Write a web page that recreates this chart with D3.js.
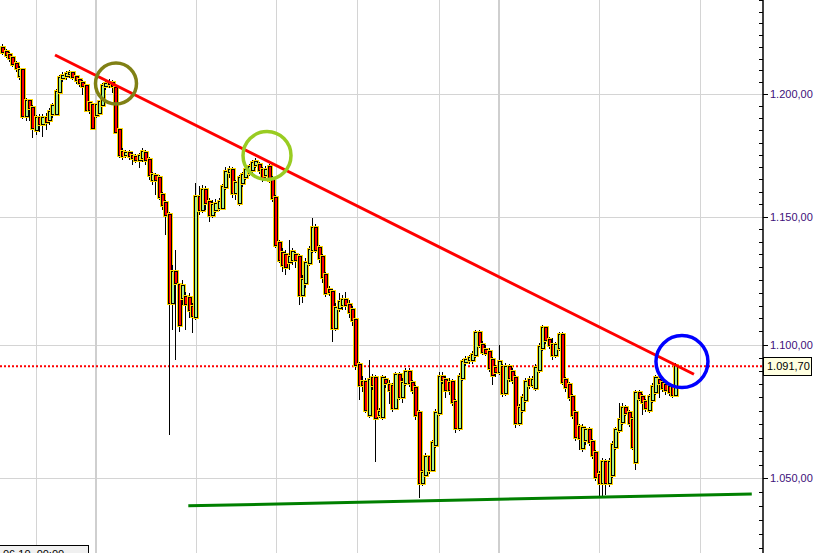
<!DOCTYPE html>
<html><head><meta charset="utf-8">
<script src="https://cdn.jsdelivr.net/npm/d3@7"></script>
<style>body{margin:0;background:#fff}svg{display:block}</style>
</head><body><svg id="c" width="817" height="553"></svg>
<script>
const open=[1219.5,1217.8,1216.5,1215.2,1212.7,1207.7,1210.2,1191.0,1197.2,1194.3,
1185.2,1190.1,1187.7,1190.1,1189.3,1191.8,1191.8,1201.0,1206.8,1207.7,
1208.5,1208.9,1207.3,1206.0,1204.7,1203.5,1196.4,1195.6,1191.4,1192.2,
1195.6,1203.5,1204.3,1204.7,1202.6,1185.2,1176.2,1174.9,1175.7,1174.5,
1174.1,1172.9,1173.7,1175.7,1172.9,1164.8,1166.4,1165.6,1158.7,1155.5,
1150.7,1116.0,1128.1,1123.1,1118.0,1118.4,1118.0,1114.5,1110.6,1157.9,
1152.7,1160.7,1155.9,1150.7,1152.7,1153.5,1153.5,1161.9,1168.0,1168.8,
1159.5,1155.5,1163.5,1166.0,1167.6,1168.8,1170.8,1170.8,1168.8,1166.8,
1170.0,1164.8,1157.5,1139.6,1135.6,1134.8,1132.1,1132.8,1134.8,1134.0,
1119.2,1123.9,1131.7,1136.8,1145.5,1137.6,1134.0,1127.0,1121.1,1120.3,
1106.4,1114.1,1115.3,1117.2,1115.3,1113.3,1109.4,1092.2,1085.8,1085.8,
1073.4,1087.3,1087.3,1073.4,1072.7,1086.5,1084.7,1084.3,1076.0,1088.4,
1080.2,1085.4,1089.5,1085.4,1083.5,1074.2,1048.3,1051.2,1057.8,1053.1,
1062.3,1074.2,1087.7,1086.5,1085.4,1085.8,1078.3,1068.6,1087.3,1093.3,
1094.1,1094.1,1096.0,1104.4,1099.8,1097.9,1097.1,1094.1,1091.1,1089.5,
1091.4,1081.7,1091.4,1089.5,1087.3,1070.4,1075.3,1079.0,1086.5,1084.7,
1083.5,1090.3,1098.7,1106.4,1101.7,1099.8,1096.0,1098.7,1103.7,1086.5,
1084.7,1080.2,1074.2,1068.9,1061.2,1064.1,1067.8,1063.4,1059.3,1051.2,
1048.3,1056.0,1048.3,1051.2,1061.6,1067.8,1070.8,1076.0,1074.2,1071.5,
1056.0,1081.7,1080.2,1078.3,1075.3,1079.0,1082.0,1086.5,1085.4,1084.7,
1083.9,1083.9,1080.9];
const high=[1221.2,1219.0,1217.8,1216.1,1214.0,1211.9,1211.0,1198.5,1198.0,1195.6,
1191.4,1191.8,1191.8,1192.2,1194.3,1196.4,1202.2,1208.1,1209.4,1209.8,
1210.2,1209.8,1208.1,1206.8,1206.0,1204.3,1197.2,1196.4,1196.4,1197.6,
1204.7,1205.6,1206.4,1206.0,1203.5,1186.0,1177.8,1177.0,1177.0,1176.2,
1175.3,1175.7,1177.8,1177.0,1174.1,1168.0,1167.6,1166.8,1159.9,1156.7,
1151.9,1130.9,1136.8,1123.9,1125.0,1120.3,1119.9,1116.0,1163.5,1162.3,
1162.7,1162.3,1157.5,1156.7,1157.1,1157.5,1163.1,1170.0,1170.4,1170.0,
1164.8,1166.8,1168.0,1170.0,1171.2,1172.9,1173.7,1172.1,1170.0,1170.4,
1171.2,1166.4,1158.7,1140.7,1137.6,1136.8,1140.7,1137.6,1136.0,1135.2,
1127.0,1133.6,1138.4,1149.5,1147.1,1138.8,1135.2,1128.1,1122.7,1121.5,
1116.0,1119.9,1119.2,1120.3,1117.2,1114.9,1110.2,1093.3,1088.0,1087.3,
1094.1,1088.8,1088.4,1076.0,1088.4,1088.0,1086.5,1085.4,1089.5,1089.5,
1087.3,1091.1,1091.1,1086.5,1084.7,1075.3,1053.1,1059.3,1058.6,1064.1,
1075.7,1089.5,1089.5,1088.0,1087.3,1086.9,1079.4,1089.2,1094.5,1095.6,
1096.0,1097.5,1105.6,1105.6,1101.3,1099.8,1098.7,1095.2,1092.2,1099.8,
1092.6,1093.0,1092.6,1091.1,1088.4,1077.5,1081.3,1087.3,1088.0,1088.0,
1092.6,1100.6,1107.5,1107.1,1102.9,1102.5,1101.0,1104.8,1104.8,1087.7,
1085.8,1081.3,1075.3,1070.1,1070.1,1068.9,1068.9,1064.5,1060.4,1052.7,
1057.5,1057.1,1057.5,1063.8,1068.9,1077.9,1077.9,1077.2,1075.3,1072.7,
1082.8,1082.8,1081.3,1079.4,1081.3,1085.4,1088.4,1088.0,1086.9,1086.2,
1085.4,1085.0,1093.0];
const low=[1216.5,1215.2,1213.6,1211.5,1209.4,1206.0,1189.7,1188.9,1188.9,1181.9,
1183.1,1184.4,1182.3,1185.2,1187.3,1190.1,1191.0,1200.1,1205.2,1206.0,
1206.8,1206.0,1204.3,1203.1,1199.7,1192.6,1191.8,1185.2,1190.1,1191.4,
1194.7,1201.8,1202.6,1200.5,1183.5,1173.7,1172.9,1173.7,1172.9,1170.8,
1171.6,1169.6,1172.1,1170.8,1164.8,1162.7,1158.7,1156.7,1152.7,1142.7,
1066.0,1105.6,1094.1,1104.8,1115.3,1105.6,1110.2,1104.4,1109.4,1150.7,
1151.5,1152.7,1147.9,1149.5,1151.5,1152.3,1152.7,1160.7,1165.6,1157.5,
1156.7,1154.3,1161.9,1164.8,1166.4,1167.6,1169.6,1167.2,1164.0,1165.6,
1163.5,1155.9,1137.6,1131.7,1128.1,1127.0,1128.9,1130.9,1129.7,1115.3,
1116.0,1121.9,1130.5,1135.6,1135.6,1131.7,1123.9,1118.4,1118.8,1101.0,
1105.2,1112.5,1113.3,1113.3,1110.2,1107.1,1090.3,1079.0,1082.0,1074.2,
1072.3,1082.8,1056.0,1072.3,1071.5,1083.5,1077.5,1074.5,1075.3,1079.0,
1077.9,1084.3,1083.9,1081.3,1071.5,1042.9,1047.2,1050.5,1051.6,1052.3,
1061.2,1073.0,1085.0,1079.8,1080.9,1076.8,1066.7,1067.5,1086.2,1091.8,
1092.6,1092.6,1094.8,1098.7,1096.0,1095.6,1089.5,1084.7,1087.7,1088.4,
1080.2,1080.5,1085.8,1085.0,1068.6,1069.3,1074.2,1077.9,1083.2,1083.5,
1082.4,1089.2,1097.5,1100.2,1098.3,1094.1,1094.8,1097.5,1084.7,1082.0,
1078.7,1071.9,1063.8,1060.4,1059.7,1062.3,1061.9,1057.1,1049.0,1043.2,
1043.2,1044.0,1046.9,1050.1,1060.4,1066.7,1069.7,1073.0,1068.9,1060.4,
1053.1,1078.7,1073.4,1074.5,1074.2,1077.9,1080.9,1079.8,1082.0,1080.9,
1080.5,1079.8,1080.2];
const close=[1217.8,1216.5,1215.2,1212.7,1211.0,1210.2,1191.0,1197.2,1194.3,1186.0,
1190.1,1187.7,1190.1,1188.5,1192.6,1195.1,1201.0,1206.8,1207.7,1208.5,
1208.9,1207.3,1206.0,1204.7,1203.5,1193.5,1193.5,1186.0,1195.6,1196.8,
1203.5,1204.3,1204.7,1203.5,1184.4,1174.9,1174.5,1175.7,1174.5,1173.7,
1172.9,1174.5,1176.2,1172.9,1166.8,1166.8,1164.8,1157.9,1154.7,1150.7,
1116.0,1128.1,1123.9,1107.5,1122.7,1115.7,1113.3,1111.0,1157.9,1152.7,
1160.7,1155.5,1150.7,1154.7,1155.1,1155.9,1161.9,1168.0,1168.8,1159.5,
1163.5,1165.6,1166.8,1168.8,1170.0,1171.6,1172.1,1168.8,1165.6,1168.8,
1164.8,1157.5,1138.8,1132.8,1130.9,1130.1,1134.0,1136.0,1132.8,1119.2,
1125.0,1131.7,1136.8,1145.5,1136.8,1133.6,1126.2,1119.9,1120.3,1106.4,
1114.1,1116.4,1117.2,1115.3,1112.5,1109.4,1092.2,1084.7,1084.7,1075.3,
1086.5,1084.7,1072.3,1074.5,1087.3,1085.4,1082.8,1076.0,1088.4,1080.2,
1085.4,1089.5,1085.4,1082.8,1073.4,1048.3,1052.0,1057.8,1053.1,1063.0,
1074.2,1087.7,1086.5,1082.8,1082.8,1078.3,1068.6,1087.7,1093.3,1094.1,
1094.8,1096.0,1104.4,1099.8,1097.1,1096.8,1091.1,1088.4,1089.5,1093.3,
1081.7,1091.4,1087.3,1086.5,1070.4,1076.0,1079.8,1085.8,1084.7,1086.5,
1091.1,1099.0,1106.4,1101.7,1099.8,1096.0,1099.8,1103.7,1085.8,1083.9,
1080.2,1073.4,1065.2,1064.9,1068.6,1067.8,1063.4,1058.6,1050.5,1048.3,
1056.0,1048.3,1056.0,1062.3,1067.8,1071.5,1076.0,1074.2,1070.4,1061.6,
1081.7,1079.8,1078.3,1076.0,1080.2,1083.9,1087.3,1085.4,1083.5,1082.8,
1082.0,1080.9,1091.7];

const dayGridIdx=[10.0,28.1,58.3,82.3,106.6,131.0,149.1,179.2,209.5];
const weekGridIdx=[28.1,149.1];
const majorTicks=[1050,1100,1150,1200];
const lastPrice=1091.7;
const redTrend=[[15.85,1216.5],[207.6,1088.7]];
const greenTrend=[[55.85,1040.0],[224.95,1044.3]];
const circleIdx=[34.15,79.47,204.0];
const circlePrice=[1204.5,1174.7,1093.5];
const cursorLabel="06.10. 00:00";

const W=817,H=553,AX=763;
const svg=d3.select("#c");
const x=d3.scaleLinear().domain([0,202]).range([2.2,675.3]);
const y=d3.scaleLog().domain([1023.08,1240.0]).range([H,0]);
const loc=d3.formatLocale({decimal:",",thousands:".",grouping:[3],currency:["",""]});
const fmt=loc.format(",.2f");

svg.append("rect").attr("width",W).attr("height",H).attr("fill","#fff");
svg.append("clipPath").attr("id","cp").append("rect").attr("x",0).attr("y",0).attr("width",AX).attr("height",H);
const plot=svg.append("g").attr("clip-path","url(#cp)");

// gridlines
plot.selectAll(".hg").data(majorTicks).join("line")
 .attr("x1",0).attr("x2",AX).attr("y1",d=>Math.round(y(d))+0.5).attr("y2",d=>Math.round(y(d))+0.5)
 .attr("stroke","#d4d4d4").attr("stroke-width",1);
plot.selectAll(".vg").data(dayGridIdx).join("line")
 .attr("x1",d=>weekGridIdx.includes(d)?Math.round(x(d)):Math.round(x(d))+0.5)
 .attr("x2",d=>weekGridIdx.includes(d)?Math.round(x(d)):Math.round(x(d))+0.5)
 .attr("y1",0).attr("y2",H)
 .attr("stroke",d=>weekGridIdx.includes(d)?"#cfcfcf":"#d4d4d4")
 .attr("stroke-width",d=>weekGridIdx.includes(d)?2:1);

// last price dotted line
plot.append("line").attr("x1",0).attr("x2",AX).attr("y1",y(lastPrice)).attr("y2",y(lastPrice))
 .attr("stroke","#ff0000").attr("stroke-width",2).attr("stroke-dasharray","2,2");

// candles: yellow halo, black outline, coloured body, black wick
const idx=d3.range(close.length);
const cg=plot.append("g").attr("shape-rendering","crispEdges");
idx.forEach(i=>{
  const cx=Math.round(x(i));
  const yo=Math.round(y(open[i])),yc=Math.round(y(close[i]));
  const top=Math.min(yo,yc),h=Math.max(1,Math.abs(yo-yc));
  const up=close[i]>=open[i];
  const yh=Math.round(y(high[i])),yl=Math.round(y(low[i]));
  cg.append("rect").attr("x",cx).attr("y",yh).attr("width",1).attr("height",Math.max(1,yl-yh)).attr("fill","#000");
  cg.append("rect").attr("x",cx-2).attr("y",top-2).attr("width",6).attr("height",h+4).attr("fill","#ffd700");
  cg.append("rect").attr("x",cx-1).attr("y",top-1).attr("width",4).attr("height",h+2).attr("fill","#000");
  cg.append("rect").attr("x",cx).attr("y",top).attr("width",2).attr("height",h).attr("fill",up?"#a6f08c":"#ff0000");
});

// trend lines
const ln=d3.line().x(d=>x(d[0])).y(d=>y(d[1]));
plot.append("path").attr("d",ln(greenTrend)).attr("stroke","#008000").attr("stroke-width",3).attr("fill","none");
plot.append("path").attr("d",ln(redTrend)).attr("stroke","#ff0000").attr("stroke-width",3).attr("fill","none");

// circles
const cColors=["#808015","#99cc22","#0000ff"];
const cR=[20.5,24,26];
circleIdx.forEach((ci,k)=>{
  plot.append("circle").attr("cx",x(ci)).attr("cy",y(circlePrice[k])).attr("r",cR[k])
   .attr("fill","none").attr("stroke",cColors[k]).attr("stroke-width",3.5);
});

// axis
svg.append("line").attr("x1",AX).attr("x2",AX).attr("y1",0).attr("y2",H).attr("stroke","#000").attr("stroke-width",1.5);
const minor=d3.range(1025,1241,5).filter(v=>v%50!==0);
svg.selectAll(".mt").data(minor).join("line")
 .attr("x1",AX-4).attr("x2",AX).attr("y1",d=>Math.round(y(d))+0.5).attr("y2",d=>Math.round(y(d))+0.5)
 .attr("stroke","#000").attr("stroke-width",1);
svg.selectAll(".Mt").data(majorTicks).join("line")
 .attr("x1",AX).attr("x2",AX+5).attr("y1",d=>Math.round(y(d))+0.5).attr("y2",d=>Math.round(y(d))+0.5)
 .attr("stroke","#000").attr("stroke-width",1);
svg.selectAll(".tl").data(majorTicks).join("text")
 .attr("x",770).attr("y",d=>y(d)+4).text(d=>fmt(d))
 .attr("font-family","Liberation Sans, Arial, sans-serif").attr("font-size",11).attr("fill","#40107a");

// last price box
const ly=y(lastPrice);
svg.append("rect").attr("x",763.5).attr("y",Math.round(ly)-8.5).attr("width",48).attr("height",18)
 .attr("fill","#ffffe1").attr("stroke","#000").attr("stroke-width",1);
svg.append("text").attr("x",767).attr("y",ly+4).text(fmt(lastPrice))
 .attr("font-family","Liberation Sans, Arial, sans-serif").attr("font-size",11).attr("fill","#000");

// cursor date box
svg.append("rect").attr("x",-0.5).attr("y",545.5).attr("width",89).attr("height",20)
 .attr("fill","#f0f0f0").attr("stroke","#000").attr("stroke-width",1);
svg.append("text").attr("x",3).attr("y",558).text(cursorLabel)
 .attr("font-family","Liberation Sans, Arial, sans-serif").attr("font-size",11).attr("fill","#000");
</script></body></html>
